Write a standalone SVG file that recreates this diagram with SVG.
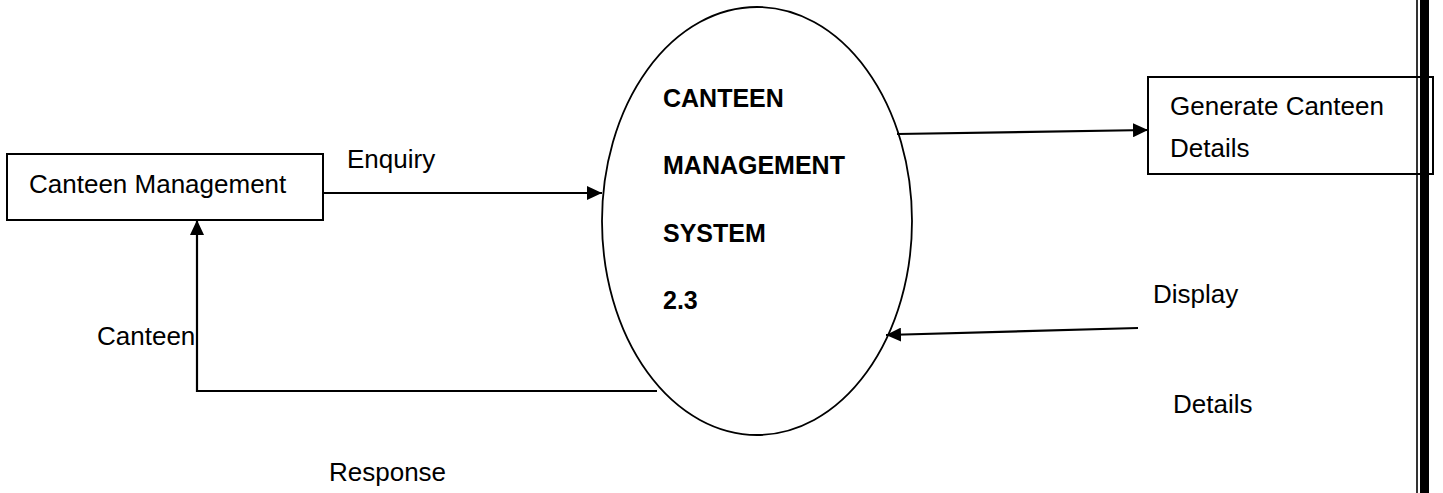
<svg xmlns="http://www.w3.org/2000/svg" width="1443" height="493" viewBox="0 0 1443 493">
<style>
.box{fill:#fff;stroke:#000;stroke-width:2}
.ell{fill:#fff;stroke:#000;stroke-width:1.8}
.ln{fill:none;stroke:#000;stroke-width:2.2}
.t{font-family:"Liberation Sans",Arial,sans-serif;font-size:26px;fill:#000}
.b{font-family:"Liberation Sans",Arial,sans-serif;font-size:25px;font-weight:bold;fill:#000}
</style>
<defs>
<marker id="ah" markerUnits="userSpaceOnUse" markerWidth="16" markerHeight="14" refX="15" refY="7" orient="auto">
<path d="M0,0 L15,7 L0,14 Z" fill="#000"/>
</marker>
</defs>
<rect width="1443" height="493" fill="#fff"/>
<g id="node-canteen-management">
<rect class="box" x="7" y="154" width="316" height="66"/>
<text class="t" x="29" y="193">Canteen Management</text>
</g>
<g id="node-system">
<ellipse class="ell" cx="757" cy="221" rx="155" ry="214"/>
<text class="b" x="663" y="107">CANTEEN</text>
<text class="b" x="663" y="174">MANAGEMENT</text>
<text class="b" x="663" y="242">SYSTEM</text>
<text class="b" x="663" y="309">2.3</text>
</g>
<g id="node-generate">
<rect class="box" x="1148" y="77" width="285" height="97"/>
<text class="t" x="1170" y="115">Generate Canteen</text>
<text class="t" x="1170" y="157">Details</text>
</g>
<g id="connectors">
<line class="ln" x1="323" y1="193" x2="602" y2="193" marker-end="url(#ah)"/>
<line class="ln" x1="897" y1="134" x2="1148" y2="130" marker-end="url(#ah)"/>
<line class="ln" x1="1138" y1="328" x2="886" y2="335" marker-end="url(#ah)"/>
<polyline class="ln" points="657,391 197,391 197,220" marker-end="url(#ah)"/>
</g>
<g id="labels">
<text class="t" x="347" y="168">Enquiry</text>
<text class="t" x="97" y="345">Canteen</text>
<text class="t" x="329" y="481">Response</text>
<text class="t" x="1153" y="303">Display</text>
<text class="t" x="1173" y="413">Details</text>
</g>
<g id="page-border">
<line x1="1417" y1="0" x2="1417" y2="493" stroke="#000" stroke-width="1.6"/>
<rect x="1420" y="0" width="9" height="493" fill="#000"/>
</g>
</svg>
